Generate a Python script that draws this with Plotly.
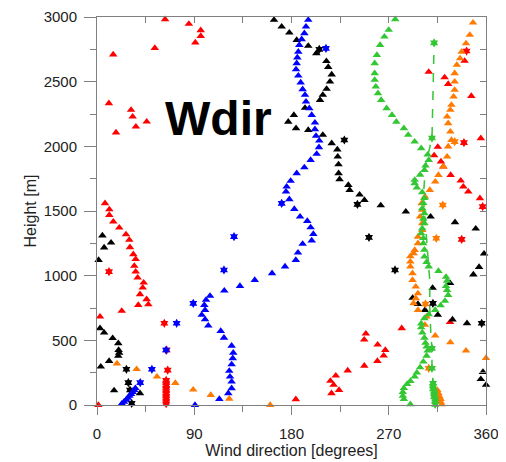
import plotly.graph_objects as go

# ---------------- data (wind direction [deg], height [m]) ----------------
green_tri_x = [276, 270, 266, 262, 259, 257, 257, 257, 258, 260, 263, 268, 273, 277, 284, 288, 294, 300, 306,
               307, 304, 303, 299, 294, 294, 296, 301, 303, 302, 301, 303, 302, 303, 301, 300, 302, 302, 303, 303,
               305, 307, 316, 323, 324, 323, 324, 325, 322, 318, 313, 307, 303, 300, 300, 301, 303, 304, 305, 306,
               305, 302, 299, 296, 294, 290, 287, 284, 283, 283, 284, 290]
green_tri_y = [2982, 2900, 2848, 2783, 2706, 2642, 2565, 2513, 2461, 2410, 2358, 2294, 2242, 2190, 2139, 2088, 2036, 1985, 1935,
               1894, 1850, 1817, 1780, 1740, 1714, 1680, 1645, 1600, 1560, 1520, 1482, 1440, 1405, 1365, 1327, 1290, 1250, 1200, 1147,
               1105, 1070, 1036, 990, 960, 920, 889, 850, 805, 770, 734, 700, 670, 630, 600, 560, 520, 480, 451, 420,
               380, 335, 290, 250, 219, 185, 162, 130, 100, 70, 45, 5]

lidar_x = [313, 313, 313, 312, 312, 312, 311, 311, 311, 310, 310, 309, 308, 308, 305, 302, 304, 310, 312]
lidar_y = [5, 25, 45, 65, 85, 105, 125, 145, 168, 284, 438, 541, 750, 960, 1300, 1608, 1850, 2064, 2800]
lidar_star_x = [313, 313, 313, 312, 312, 312, 311, 311, 311, 310, 310, 310, 312]
lidar_star_y = [5, 25, 45, 65, 85, 105, 125, 145, 168, 284, 438, 2064, 2800]

orange_tri_x = [348, 345, 341.5, 337.5, 336, 333, 331, 331, 331, 330, 328, 327, 324, 325, 327, 328, 325, 324, 320.5,
                316, 313, 308, 303.5, 300.5, 301, 299, 301, 301, 297, 297, 294, 293, 290, 290, 290, 292, 292, 295, 297,
                295, 293, 297, 305, 303.5, 313, 327, 341.5, 360,
                18.5, 36.7, 55.5, 72.5, 89, 105.3, 122.4, 160.3,
                319, 318, 318, 317, 316, 315]
orange_tri_y = [2956, 2861, 2796, 2731, 2680, 2629, 2565, 2500, 2436, 2384, 2320, 2281, 2229, 2178, 2113, 2049, 1998, 1920, 1843,
                1778, 1727, 1662, 1611, 1559, 1508, 1456, 1405, 1353, 1300, 1250, 1198, 1173, 1150, 1108, 1070, 1018, 966, 915, 863,
                825, 786, 734, 683, 619, 536, 484, 420, 363,
                320, 277, 219, 170, 118, 77, 48, 0,
                5, 25, 45, 65, 90, 115]
orange_star_x = [320, 314, 331, 307, 304]
orange_star_y = [1546, 1289, 2036, 284, 781]

red_tri_x = [63, 85, 96, 96, 91, 53.5, 15, 11, 31.5, 33, 36, 46, 17.6,
             7.4, 11.4, 11.4, 15.1, 20.6, 26.8, 29.9, 30.5, 33.6, 35.8, 34.5, 35.8, 37.6, 43.2, 42.3, 39.8, 45.9,
             47.5, 38.2, 22.9, 2.8, 1.2,
             184, 217, 224, 219, 216, 221, 232, 247.4, 259.5, 265.3, 266.8, 259.7, 247.3, 248.8, 282, 326.7,
             307, 321.7, 325, 346.4, 340.2, 355.2, 315.4, 312, 318.3, 320.5, 327.3, 336.6, 339, 343.6, 354.4]
red_tri_y = [2982, 2946, 2897, 2853, 2802, 2760, 2710, 2333, 2281, 2229, 2152, 2191, 2106,
             1559, 1512, 1469, 1417, 1371, 1319, 1276, 1219, 1165, 1127, 1075, 1031, 984, 946, 907, 856, 817,
             778, 773, 727, 683, 0,
             44, 90, 116, 155, 186, 227, 266, 303, 340, 381, 425, 466, 505, 551, 593, 640,
             2575, 2533, 2481, 2389, 2660, 2062, 1995, 1930, 1882, 1843, 1778, 1734, 1688, 1649, 1598]
red_star_x = [11.1, 62.3, 64.5, 65.4, 64, 64, 64, 64, 64, 64, 64, 64, 64, 64, 342, 339.6, 356.9, 337.5]
red_star_y = [1031, 632, 425, 270, 190, 170, 150, 130, 110, 90, 70, 50, 30, 10, 2737, 2029, 1534, 1281]

blue_tri_x = [23, 25, 27, 28.5, 30, 31.5, 33, 34.5, 35.5,
              90.7, 113.2, 121.5, 124.6, 124.6, 123.1, 122.4, 124.6, 125.6, 126.1, 124.6, 117.5, 114.5, 103, 100,
              96.9, 100, 99.3, 100.9, 104.6, 117.8, 132.3, 146, 162, 174, 184, 186, 190.3, 198.7, 200.2, 197.7,
              194.6, 187.9, 182.6, 178, 174.9, 175.5, 179.2, 184.8, 191.9, 197.7, 203.3, 205.4, 205.7, 202.7,
              201.7, 201.7, 198.7, 196.5, 193.4, 192.5, 190.3, 188.5, 186.3, 184.2, 184.8, 185.4, 186.3, 187.2,
              189.4, 191.9, 193.4, 195.5]
blue_tri_y = [10, 25, 40, 55, 70, 85, 100, 115, 130,
              0, 46, 90, 129, 180, 219, 263, 314, 361, 404, 458, 520, 572, 613, 662,
              696, 734, 773, 812, 843, 884, 920, 966, 1018, 1070, 1121, 1178, 1245, 1271, 1322, 1373,
              1422, 1456, 1515, 1590, 1649, 1688, 1732, 1791, 1837, 1894, 1941, 1992, 2044, 2080,
              2132, 2183, 2242, 2294, 2345, 2397, 2441, 2493, 2546, 2595, 2642, 2686, 2731, 2783,
              2827, 2874, 2925, 2977]
blue_star_x = [73.7, 50.8, 40, 126.8, 117.5, 89.1, 63.9, 211.9, 170.9]
blue_star_y = [632, 276, 173, 1302, 1044, 786, 425, 2757, 1559]

black_tri_x = [5, 13, 6.6, 1.5, 2.8, 6.6, 14.5, 19.7, 20, 20.5, 19.7, 11.2, 3.5, 15.8, 39.8,
               163.8, 170.9, 178, 184.8, 195.5, 203, 212.3, 214, 217.2, 215.6, 212.5, 209, 206.4, 192.5, 182.2,
               177, 184.2, 195.5, 209, 217.2, 222.4, 222.8, 223.5, 223.6, 224.5, 232.6, 233.8, 243, 247.5,
               262.6, 285.8, 308.7, 331.3, 350.5, 358.2, 353.6, 348.3, 326.7, 310.6, 292.1, 297, 303.5, 315.4,
               329, 342.4, 357.2, 355.2, 360]
black_tri_y = [1310, 1255, 1217, 1121, 593, 559, 517, 477, 425, 404, 379, 340, 296, 113, 90,
               2977, 2925, 2879, 2822, 2776, 2719, 2658, 2613, 2555, 2500, 2444, 2397, 2358, 2297, 2242,
               2190, 2139, 2126, 2088, 2023, 1975, 1920, 1860, 1791, 1745, 1701, 1662, 1626, 1585,
               1543, 1495, 1456, 1413, 1363, 1170, 1067, 1009, 943, 905, 828, 780, 734, 696,
               661, 632, 255, 200, 155]
black_star_x = [27.2, 29, 30.5, 32.1, 205.7, 228.9, 241, 251.7, 275.8, 310.9, 356]
black_star_y = [276, 173, 116, 13, 2750, 2049, 1551, 1296, 1044, 786, 632]

x_ticks = [0, 90, 180, 270, 360]
y_ticks = [0, 500, 1000, 1500, 2000, 2500, 3000]

# ---------------- styling ----------------
RED, BLACK, BLUE, GREEN, ORANGE = "#ff0000", "#000000", "#0000ff", "#33c733", "#ff7a00"
AX = "#808080"
FONT = "Liberation Sans, Arial, sans-serif"
TRI = 7.5
STAR = 7

fig = go.Figure()


def tri(x, y, c):
    fig.add_trace(go.Scatter(x=x, y=y, mode="markers", cliponaxis=False,
                             marker=dict(symbol="triangle-up", size=TRI, color=c, line=dict(width=0)),
                             showlegend=False, hoverinfo="skip"))


def star(x, y, c):
    fig.add_trace(go.Scatter(x=x, y=y, mode="markers", cliponaxis=False,
                             marker=dict(symbol="hexagram", size=STAR, color=c, line=dict(width=0)),
                             showlegend=False, hoverinfo="skip"))


tri(red_tri_x, red_tri_y, RED)
star(red_star_x, red_star_y, RED)
tri(black_tri_x, black_tri_y, BLACK)
star(black_star_x, black_star_y, BLACK)
tri(blue_tri_x, blue_tri_y, BLUE)
star(blue_star_x, blue_star_y, BLUE)
tri(orange_tri_x, orange_tri_y, ORANGE)
star(orange_star_x, orange_star_y, ORANGE)
tri(green_tri_x, green_tri_y, GREEN)
fig.add_trace(go.Scatter(x=lidar_x, y=lidar_y, mode="lines", line=dict(color=GREEN, width=1.5, dash="dash"),
                         showlegend=False, hoverinfo="skip"))
star(lidar_star_x, lidar_star_y, GREEN)

# dummy trace to activate mirrored axes (top/right with inward ticks)
fig.add_trace(go.Scatter(x=[None], y=[None], xaxis="x2", yaxis="y2", mode="markers",
                         showlegend=False, hoverinfo="skip"))

fig.add_annotation(x=112, y=2219, xref="x", yref="y", text="<b>Wdir</b>", showarrow=False,
                   font=dict(family=FONT, size=48, color="black"))

# the page body adds an 8 px offset, so the figure is sized to fit the window
fig.update_layout(
    width=498, height=454,
    margin=dict(l=89, r=20, t=9, b=57),
    paper_bgcolor="white", plot_bgcolor="white",
    font=dict(family=FONT, size=15, color="#222222"),
    showlegend=False,
    xaxis=dict(range=[0, 360], tickvals=x_ticks, ticks="outside", ticklen=9, tickcolor=AX, tickwidth=1,
               showline=True, linecolor=AX, linewidth=1, showgrid=False, zeroline=False, automargin=False,
               minor=dict(dtick=45, tick0=0, ticks="outside", ticklen=6, tickcolor=AX),
               ticklabelstandoff=6,
               title=dict(text="Wind direction [degrees]", font=dict(size=16), standoff=0)),
    yaxis=dict(range=[0, 3000], tickvals=y_ticks, ticks="outside", ticklen=12, tickcolor=AX, tickwidth=1,
               showline=True, linecolor=AX, linewidth=1, showgrid=False, zeroline=False, automargin=False,
               minor=dict(dtick=250, tick0=0, ticks="outside", ticklen=6, tickcolor=AX),
               ticklabelstandoff=4,
               title=dict(text="Height [m]", font=dict(size=16), standoff=3)),
    xaxis2=dict(overlaying="x", side="top", anchor="y", range=[0, 360], dtick=45, tick0=0,
                ticks="inside", ticklen=6, tickcolor=AX, showticklabels=False, automargin=False,
                showline=True, linecolor=AX, linewidth=1, showgrid=False, zeroline=False),
    yaxis2=dict(overlaying="y", side="right", anchor="x", range=[0, 3000], dtick=250, tick0=0,
                ticks="inside", ticklen=6, tickcolor=AX, showticklabels=False, automargin=False,
                showline=True, linecolor=AX, linewidth=1, showgrid=False, zeroline=False),
)

fig.write_html("out.html")
